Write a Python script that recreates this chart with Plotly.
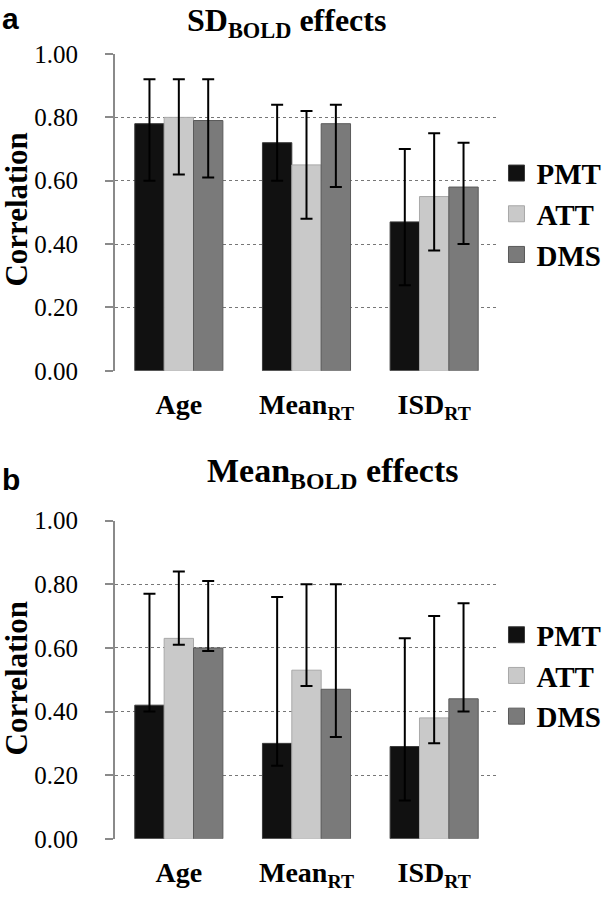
import plotly.graph_objects as go

# categories and tasks
categories = ["<b>Age</b>", "<b>Mean<sub>RT</sub></b>", "<b>ISD<sub>RT</sub></b>"]
tasks = ["PMT", "ATT", "DMS"]

# panel a: SD_BOLD effects (value, upper CI, lower CI)
sd_pmt = [0.78, 0.72, 0.47]
sd_pmt_hi = [0.92, 0.84, 0.70]
sd_pmt_lo = [0.60, 0.60, 0.27]
sd_att = [0.80, 0.65, 0.55]
sd_att_hi = [0.92, 0.82, 0.75]
sd_att_lo = [0.62, 0.48, 0.38]
sd_dms = [0.79, 0.78, 0.58]
sd_dms_hi = [0.92, 0.84, 0.72]
sd_dms_lo = [0.61, 0.58, 0.40]

# panel b: Mean_BOLD effects
mn_pmt = [0.42, 0.30, 0.29]
mn_pmt_hi = [0.77, 0.76, 0.63]
mn_pmt_lo = [0.40, 0.23, 0.12]
mn_att = [0.63, 0.53, 0.38]
mn_att_hi = [0.84, 0.80, 0.70]
mn_att_lo = [0.61, 0.48, 0.30]
mn_dms = [0.60, 0.47, 0.44]
mn_dms_hi = [0.81, 0.80, 0.74]
mn_dms_lo = [0.59, 0.32, 0.40]

colors = {"PMT": "#111111", "ATT": "#c9c9c9", "DMS": "#7a7a7a"}
edges = {"PMT": "#3a3a3a", "ATT": "#a8a8a8", "DMS": "#5a5a5a"}

panels = [
    ("x", "y", "legend", {"PMT": (sd_pmt, sd_pmt_hi, sd_pmt_lo),
                          "ATT": (sd_att, sd_att_hi, sd_att_lo),
                          "DMS": (sd_dms, sd_dms_hi, sd_dms_lo)}),
    ("x2", "y2", "legend2", {"PMT": (mn_pmt, mn_pmt_hi, mn_pmt_lo),
                             "ATT": (mn_att, mn_att_hi, mn_att_lo),
                             "DMS": (mn_dms, mn_dms_hi, mn_dms_lo)}),
]

fig = go.Figure()
for xa, ya, leg, data in panels:
    for t in tasks:
        val, hi, lo = data[t]
        fig.add_trace(go.Bar(
            x=categories, y=val, xaxis=xa, yaxis=ya, showlegend=False,
            marker=dict(color=colors[t], line=dict(color=edges[t], width=1)),
            error_y=dict(type="data", symmetric=False,
                         array=[h - v for h, v in zip(hi, val)],
                         arrayminus=[v - l for v, l in zip(val, lo)],
                         color="black", thickness=2, width=6),
        ))
    # legend entries with bigger squares
    for t in tasks:
        fig.add_trace(go.Scatter(
            x=[None], y=[None], xaxis=xa, yaxis=ya, name="<b>" + t + "</b>",
            mode="markers", legend=leg,
            marker=dict(symbol="square", size=16, color=colors[t],
                        line=dict(color=edges[t], width=1)),
        ))

yax = dict(range=[0, 1.0], tickvals=[0, 0.2, 0.4, 0.6, 0.8, 1.0], tickformat=".2f",
           showgrid=True, gridcolor="#777777", griddash="dot", gridwidth=1,
           showline=True, linecolor="#8a8a8a", linewidth=2,
           ticks="outside", ticklen=8, tickcolor="#8a8a8a", tickwidth=2,
           ticklabelstandoff=22, zeroline=False,
           tickfont=dict(family="Liberation Serif", size=25, color="black"))
xax = dict(showline=False, showgrid=False, zeroline=False, ticks="",
           ticklabelstandoff=14,
           tickfont=dict(family="Liberation Serif", size=28, color="black"))

leg_font = dict(family="Liberation Serif", size=29, color="black")
corr_font = dict(family="Liberation Serif", size=31, color="black")

fig.update_layout(
    width=604, height=900,
    margin=dict(l=0, r=0, t=0, b=0, autoexpand=False),
    plot_bgcolor="white", paper_bgcolor="white",
    barmode="group", bargap=0.31, bargroupgap=0,
    xaxis=dict(domain=[0.1904, 0.8245], anchor="y", **xax),
    yaxis=dict(domain=[0.588, 0.94], anchor="x", **yax),
    xaxis2=dict(domain=[0.1904, 0.8245], anchor="y2", **xax),
    yaxis2=dict(domain=[0.068, 0.4215], anchor="x2", **yax),
    legend=dict(x=0.822, y=0.762, xanchor="left", yanchor="middle",
                font=leg_font, itemsizing="trace", tracegroupgap=0,
                bgcolor="rgba(0,0,0,0)"),
    legend2=dict(x=0.822, y=0.249, xanchor="left", yanchor="middle",
                 font=leg_font, itemsizing="trace", tracegroupgap=0,
                 bgcolor="rgba(0,0,0,0)"),
    annotations=[
        dict(text="<b>a</b>", x=0.0, y=1.0, xref="paper", yref="paper",
             xanchor="left", yanchor="top", showarrow=False,
             font=dict(family="Liberation Sans", size=30, color="black")),
        dict(text="<b>b</b>", x=0.0, y=0.488, xref="paper", yref="paper",
             xanchor="left", yanchor="top", showarrow=False,
             font=dict(family="Liberation Sans", size=30, color="black")),
        dict(text="<b>SD<sub>BOLD</sub> effects</b>", x=0.475, y=1.0,
             xref="paper", yref="paper", xanchor="center", yanchor="top",
             showarrow=False,
             font=dict(family="Liberation Serif", size=32, color="black")),
        dict(text="<b>Mean<sub>BOLD</sub> effects</b>", x=0.552, y=0.5,
             xref="paper", yref="paper", xanchor="center", yanchor="top",
             showarrow=False,
             font=dict(family="Liberation Serif", size=34, color="black")),
        dict(text="<b>Correlation</b>", x=0.028, y=0.767, xref="paper",
             yref="paper", textangle=-90, showarrow=False,
             xanchor="center", yanchor="middle", font=corr_font),
        dict(text="<b>Correlation</b>", x=0.028, y=0.246, xref="paper",
             yref="paper", textangle=-90, showarrow=False,
             xanchor="center", yanchor="middle", font=corr_font),
    ],
)

# the page body has a default 8px margin; drop it so the figure fills the window
fig.write_html("out.html", config={"displayModeBar": False},
               post_script="document.body.style.margin = '0';")
